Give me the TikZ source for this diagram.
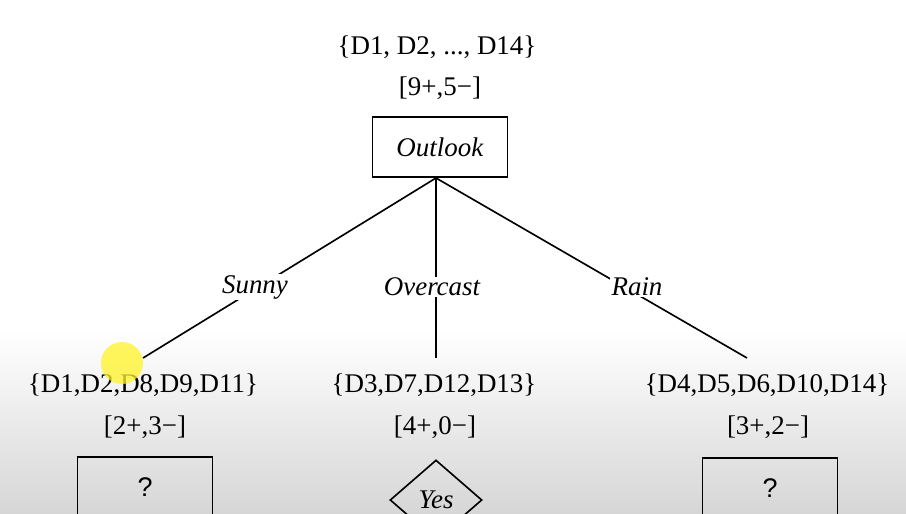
\documentclass[tikz,border=0pt]{standalone}
\usepackage{fontspec}
\setmainfont{Liberation Serif}
\newfontfamily\qfont{Liberation Sans}
\usetikzlibrary{positioning,shapes.geometric}

\begin{document}
\begin{tikzpicture}[x=0.03cm,y=-0.03cm,
  settext/.style={font=\fontsize{23}{26}\selectfont,inner sep=1pt},
  branch/.style={font=\fontsize{23}{26}\selectfont\itshape,fill=white,inner sep=1pt},
  testbox/.style={draw,line width=1.4pt,minimum width=4.05cm,minimum height=1.8cm,
    font=\fontsize{23}{26}\selectfont},
  leafbox/.style={draw,shape=diamond,line width=1.4pt,minimum width=2.76cm,
    minimum height=2.4cm,inner sep=0pt,font=\fontsize{23}{26}\selectfont\itshape}]
\useasboundingbox (0,0) rectangle (906,514);
\clip (0,0) rectangle (906,514);
% screen background
\fill[white] (0,0) rectangle (906,330);
\shade[top color=white,bottom color=black!16] (0,330) rectangle (906,514);
% root
\node[settext] (rootset) at (437,47) {\{D1, D2, ..., D14\}};
\node[settext] (rootcount) at (440,88) {[9+,5−]};
\node[testbox] (outlook) at (440,147) {\textit{Outlook}};
% children
\node[settext] (sunnyset) at (143,385) {\{D1,D2,D8,D9,D11\}};
\node[settext] (sunnycount) at (145,427) {[2+,3−]};
\node[testbox] (sunnybox) at (145,487) {\qfont ?};
\node[settext] (overcastset) at (434,385) {\{D3,D7,D12,D13\}};
\node[settext] (overcastcount) at (435,427) {[4+,0−]};
\node[leafbox] (yesleaf) at (436,500) {Yes};
\node[settext] (rainset) at (767,385) {\{D4,D5,D6,D10,D14\}};
\node[settext] (raincount) at (768,427) {[3+,2−]};
\node[testbox] (rainbox) at (770,488) {\qfont ?};
% branch ends
\coordinate (fork) at (436,178);
\coordinate (sunnyend) at (143,358);
\coordinate (overcastend) at (436,358);
\coordinate (rainend) at (747,358);
\draw[line width=1.4pt] (fork) -- (sunnyend);
\draw[line width=1.4pt] (fork) -- (overcastend);
\draw[line width=1.4pt] (fork) -- (rainend);
\node[branch] (sunnylbl) at (255,287) {Sunny};
\node[branch] (overcastlbl) at (432,287) {Overcast};
\node[branch] (rainlbl) at (637,287) {Rain};
% pointer highlight
\fill[yellow!85!white,opacity=0.75] (122,363) circle (21);
\end{tikzpicture}
\end{document}
